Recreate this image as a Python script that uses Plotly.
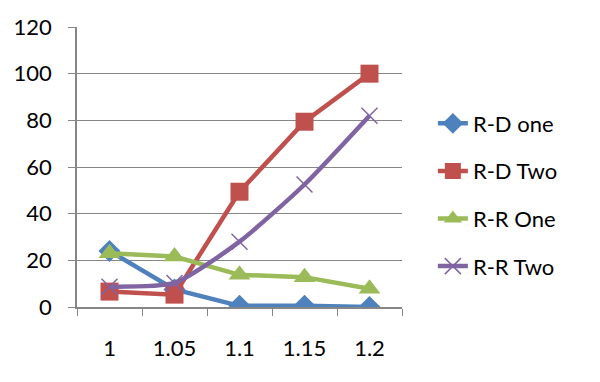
import plotly.graph_objects as go

categories = ["1", "1.05", "1.1", "1.15", "1.2"]
rd_one = [24, 7.5, 0.5, 0.5, 0]
rd_two = [6.6, 5.3, 49.4, 79.4, 100]
rr_one = [23, 21.6, 13.8, 12.8, 7.8]
rr_two = [8.7, 10.3, 28, 52.5, 82]
y_ticks = [0, 20, 40, 60, 80, 100, 120]

fig = go.Figure()
fig.add_trace(go.Scatter(x=categories, y=rd_one, name="R-D one", mode="lines+markers",
                         line=dict(color="#4F81BD", width=4.5),
                         marker=dict(symbol="diamond", size=17, color="#4F81BD"),
                         legendgroup="a"))
fig.add_trace(go.Scatter(x=categories, y=rd_two, name="R-D Two", mode="lines+markers",
                         line=dict(color="#C0504D", width=4.5),
                         marker=dict(symbol="square", size=18, color="#C0504D"),
                         legendgroup="b"))
fig.add_trace(go.Scatter(x=categories, y=rr_one, name="R-R One", mode="lines+markers",
                         line=dict(color="#9BBB59", width=4.5),
                         marker=dict(symbol="triangle-up", size=19, color="#9BBB59"),
                         legendgroup="c"))
fig.add_trace(go.Scatter(x=categories, y=rr_two, name="R-R Two", mode="lines+markers",
                         line=dict(color="#8064A2", width=4.5, shape="spline", smoothing=0.6),
                         marker=dict(symbol="x-thin", size=16, color="#8064A2",
                                     line=dict(color="#8064A2", width=1.5)),
                         legendgroup="d"))

fig.update_layout(
    width=600, height=382,
    margin=dict(l=69, r=206, t=19, b=83, autoexpand=False),
    paper_bgcolor="white", plot_bgcolor="white",
    font=dict(family="Lato, Open Sans, sans-serif", size=22, color="black"),
    showlegend=True,
    legend=dict(x=1.095, y=0.4, yanchor="middle", xanchor="left",
                traceorder="grouped", tracegroupgap=16,
                font=dict(size=22)),
    xaxis=dict(type="category", range=[-0.5, 4.5], showline=True, linecolor="#868686",
               linewidth=1.5, ticks="outside", tickson="boundaries", ticklen=7,
               tickcolor="#868686", showgrid=False, tickfont=dict(size=22),
               ticklabelstandoff=21, automargin=False),
    yaxis=dict(range=[0, 120], tickvals=y_ticks, showline=True, linecolor="#868686",
               linewidth=1.5, ticks="outside", ticklen=7, tickcolor="#868686",
               showgrid=True, gridcolor="#868686", gridwidth=1, zeroline=False,
               tickfont=dict(size=22), ticklabelstandoff=12, automargin=False),
)

fig.write_html("out.html")
